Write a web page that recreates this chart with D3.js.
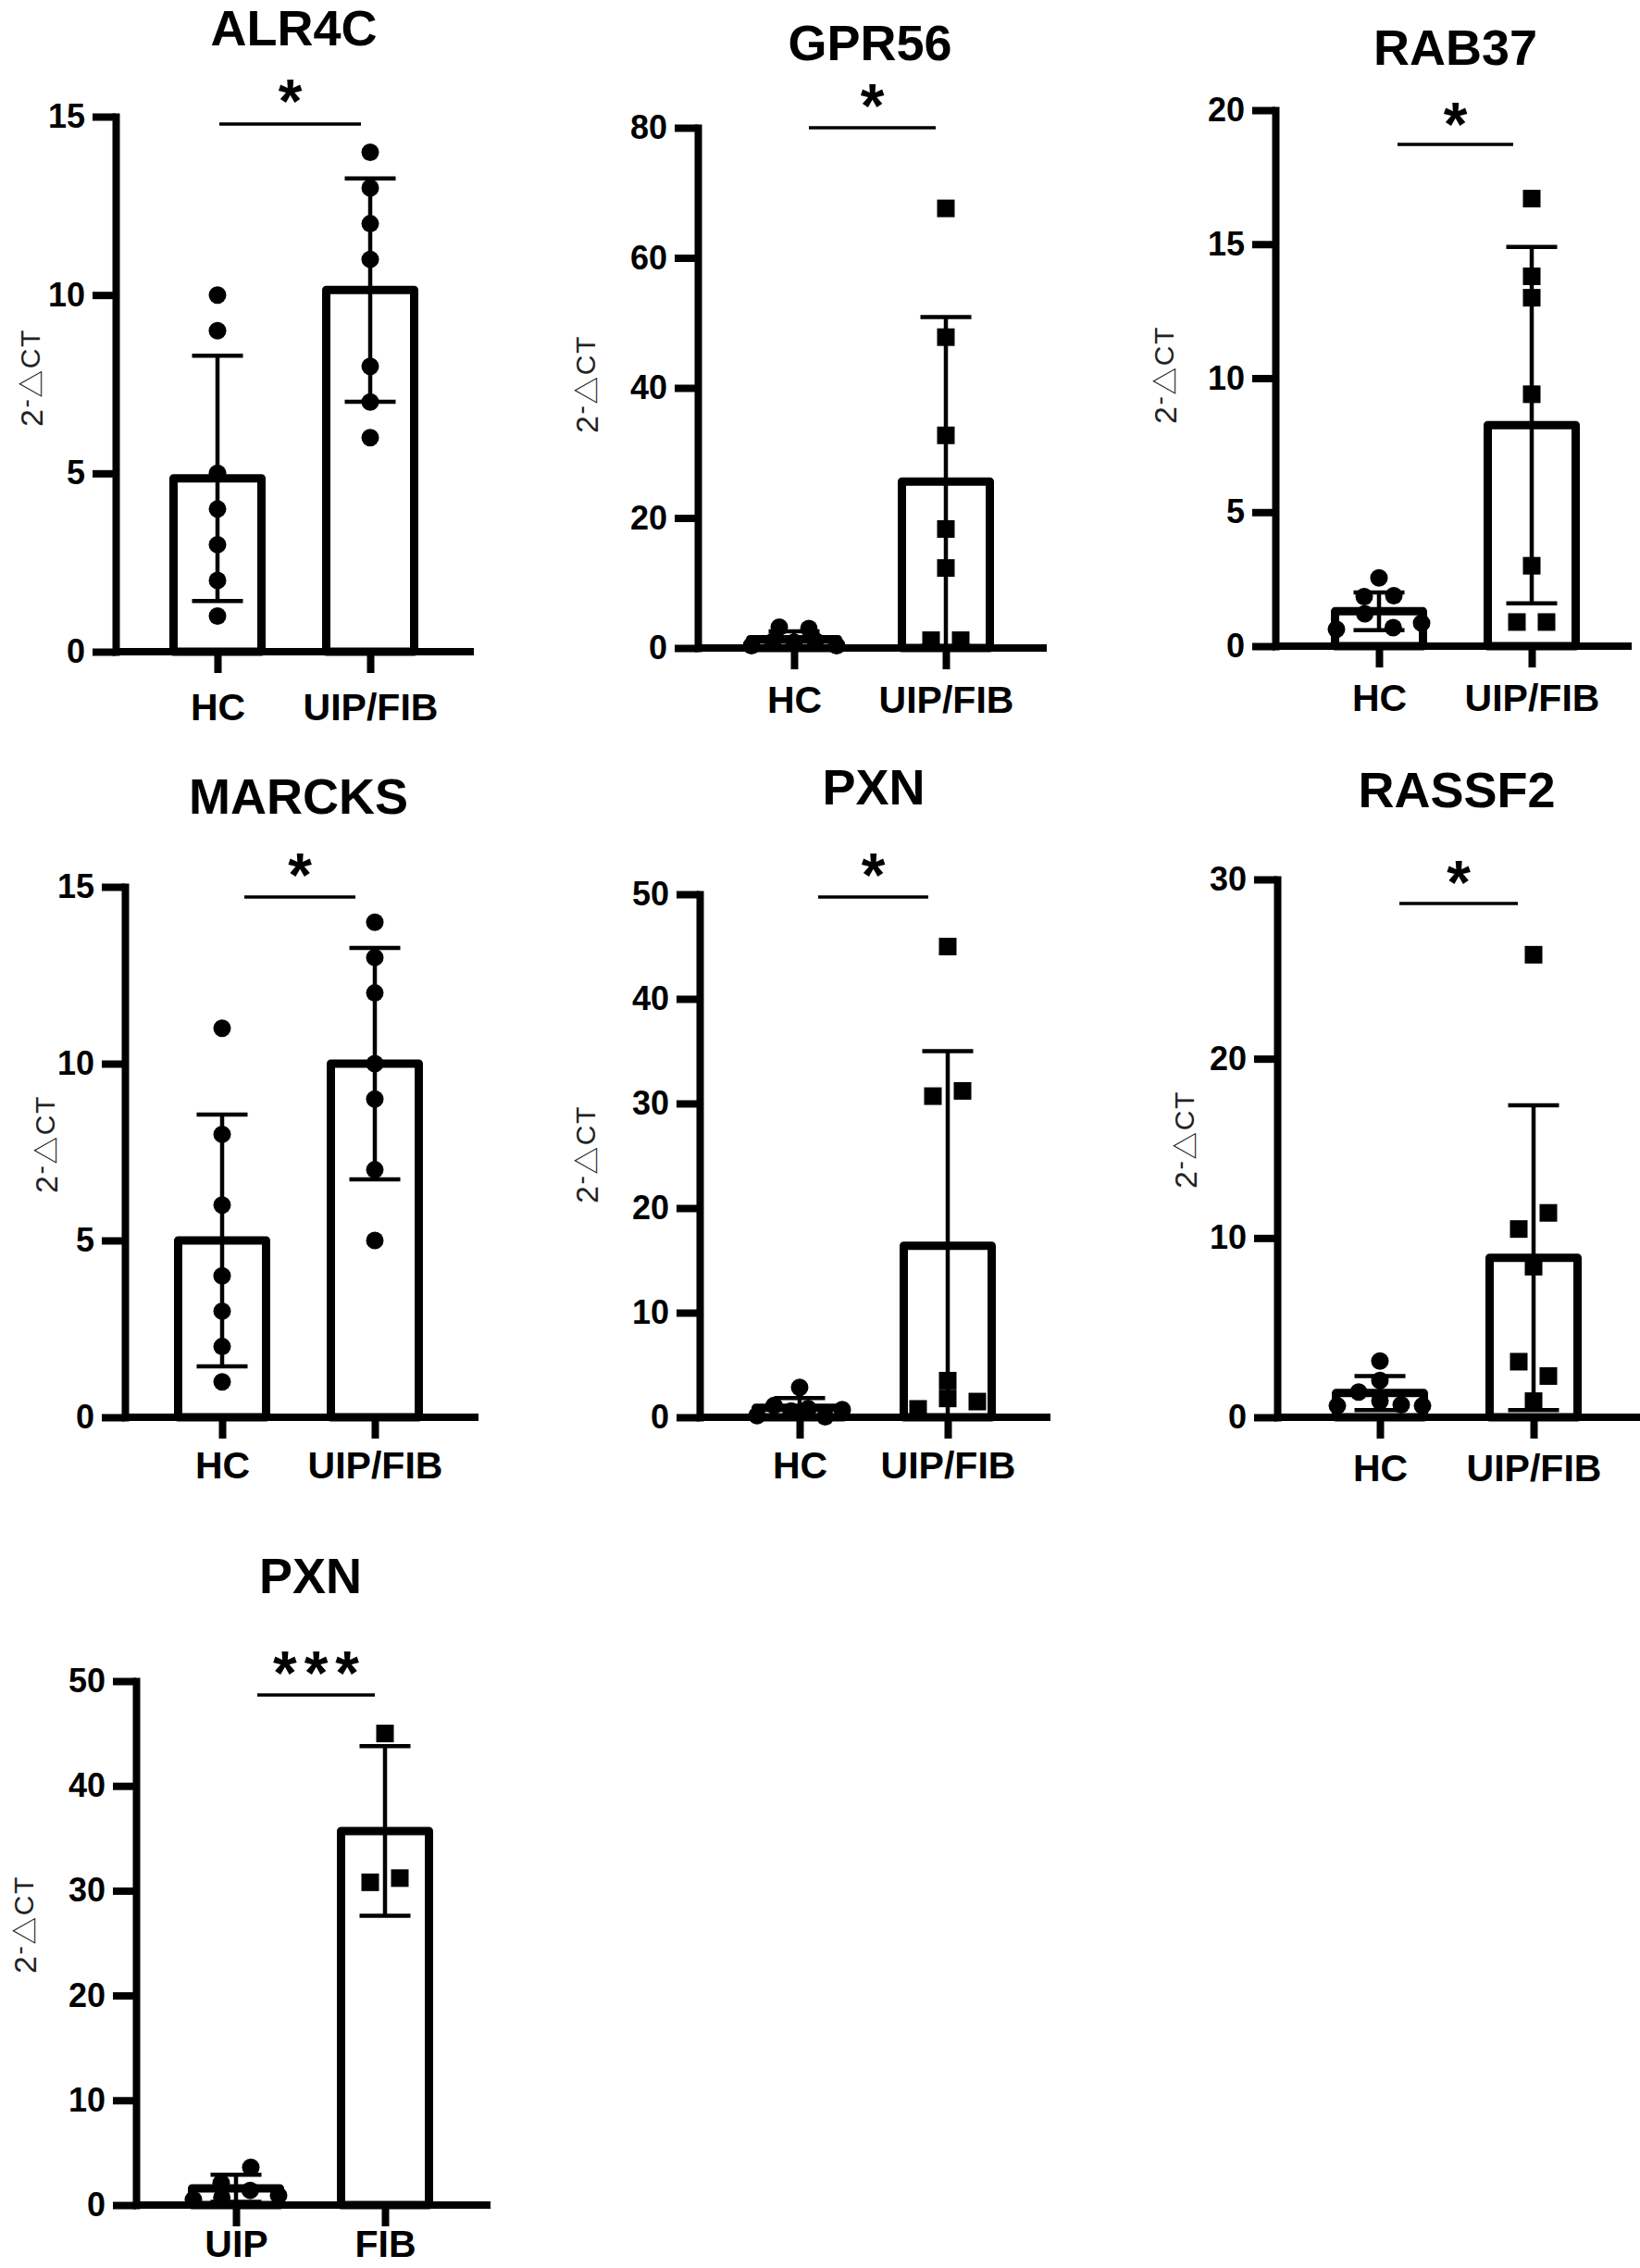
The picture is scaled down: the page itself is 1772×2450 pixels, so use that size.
<!DOCTYPE html>
<html>
<head>
<meta charset="utf-8">
<script src="https://cdn.jsdelivr.net/npm/d3@7"></script>
<style>
  body { margin: 0; background: #fff; }
</style>
</head>
<body>
<script>
// ---- data ----
var panelTitles = ["ALR4C", "GPR56", "RAB37", "MARCKS", "PXN", "RASSF2", "PXN"];
var groupLabels = [
  ["HC", "UIP/FIB"], ["HC", "UIP/FIB"], ["HC", "UIP/FIB"],
  ["HC", "UIP/FIB"], ["HC", "UIP/FIB"], ["HC", "UIP/FIB"],
  ["UIP", "FIB"]
];
var yMax = [15, 80, 20, 15, 50, 30, 50];
var yTicks = [
  [0, 5, 10, 15], [0, 20, 40, 60, 80], [0, 5, 10, 15, 20],
  [0, 5, 10, 15], [0, 10, 20, 30, 40, 50], [0, 10, 20, 30],
  [0, 10, 20, 30, 40, 50]
];
var significance = ["*", "*", "*", "*", "*", "*", "***"];

var meanValues = [
  [4.86, 10.14], [1.35, 25.6], [1.3, 8.25], [5.0, 10.0],
  [0.9, 16.4], [1.35, 8.9], [1.6, 35.7]
];
var sdValues = [
  [3.44, 3.13], [1.2, 25.3], [0.7, 6.65], [3.56, 3.27],
  [0.94, 18.6], [0.95, 8.5], [1.3, 8.1]
];

var firstGroupPoints = [
  [10, 9, 5, 4, 3, 2, 1],
  [0.35, 1.0, 0.9, 1.1, 0.35, 3.2, 3.0],
  [0.63, 1.21, 0.69, 0.86, 1.85, 1.88, 2.55],
  [11, 8, 6, 4, 3, 2, 1],
  [0.15, 1.12, 0.59, 0.83, 0.05, 0.74, 2.86],
  [0.64, 1.41, 0.9, 0.7, 0.64, 2.05, 3.14],
  [0.5, 2.1, 3.6, 0.7, 1.4, 0.9]
];
var secondGroupPoints = [
  [14, 13, 12, 11, 8, 7, 6],
  [67.6, 47.8, 32.7, 18.3, 12.3, 1.2, 1.2],
  [16.7, 13.8, 13.0, 9.4, 3.0, 0.9, 0.9],
  [14, 13, 12, 10, 9, 7, 5],
  [45, 30.7, 31.2, 3.5, 0.8, 1.8, 1.5],
  [25.8, 10.5, 11.4, 8.4, 3.1, 2.3, 0.9],
  [45, 30.8, 31.2]
];
var markerShapes = [
  ["circle", "circle"], ["circle", "square"], ["circle", "square"],
  ["circle", "circle"], ["circle", "square"], ["circle", "square"],
  ["circle", "square"]
];

// ---- page layout (pixels) ----
var layout = [
  { ax: 125, top: 126, base: 704, xEnd: 512, c: [235, 400], titleY: 30, sig: [237, 390, 134], starY: 95, labX: 34, labY: 408, catY: 764 },
  { ax: 754, top: 138, base: 700, xEnd: 1131, c: [858, 1022], titleY: 46, sig: [874, 1011, 138], starY: 100, labX: 634, labY: 415, catY: 756 },
  { ax: 1378, top: 119, base: 698, xEnd: 1763, c: [1490, 1655], titleY: 51, sig: [1510, 1635, 156], starY: 120, labX: 1259, labY: 405, catY: 754 },
  { ax: 135, top: 958, base: 1531, xEnd: 517, c: [240, 405], titleY: 860, sig: [264, 384, 969], starY: 931, labX: 50, labY: 1236, catY: 1583 },
  { ax: 756, top: 966, base: 1531, xEnd: 1135, c: [864, 1024], titleY: 850, sig: [884, 1003, 969], starY: 931, labX: 634, labY: 1247, catY: 1583 },
  { ax: 1380, top: 950, base: 1531, xEnd: 1772, c: [1491, 1657], titleY: 853, sig: [1512, 1640, 976], starY: 939, labX: 1281, labY: 1231, catY: 1586 },
  { ax: 147, top: 1816, base: 2382, xEnd: 530, c: [255, 416], titleY: 1702, sig: [278, 405, 1831], starY: 1793, labX: 27, labY: 2079, catY: 2424 }
];

var font = "'Liberation Sans', Arial, sans-serif";
var axisWidth = 8;
var barWidth = 95;
var barStroke = 9;
var markerSize = 19;
var capWidth = 55;
var tickFont = 36;
var catFont = 41;
var titleFont = 54;
var starFont = 66;

var svg = d3.select("body").append("svg")
  .attr("width", 1772)
  .attr("height", 2450);

svg.append("rect").attr("width", 1772).attr("height", 2450).attr("fill", "#fff");

// spread points that sit on the same height, the way Prism does it
function placePoints(values, y) {
  var pts = values.map(function (v, i) {
    return { v: v, i: i, py: y(v), dx: 0 };
  });
  var sorted = pts.slice().sort(function (a, b) { return b.py - a.py; });
  var groups = [];
  var current = null;
  sorted.forEach(function (p) {
    if (current && current.start - p.py < 18) {
      current.items.push(p);
    } else {
      current = { start: p.py, items: [p] };
      groups.push(current);
    }
  });
  groups.forEach(function (gr) {
    var n = gr.items.length;
    if (n < 2) return;
    var step = Math.min(32, 92 / (n - 1));
    gr.items.sort(function (a, b) { return a.i - b.i; });
    gr.items.forEach(function (p, k) {
      p.dx = (k - (n - 1) / 2) * step;
    });
  });
  return pts;
}

function drawPanel(i) {
  var L = layout[i];
  var labels = groupLabels[i];
  var y = d3.scaleLinear().domain([0, yMax[i]]).range([L.base, L.top]);
  var x = d3.scalePoint().domain(labels).range(L.c);
  var g = svg.append("g");
  var groups = [0, 1];

  // bars
  g.selectAll(".bar")
    .data(groups)
    .enter()
    .append("rect")
    .attr("x", function (k) { return x(labels[k]) - barWidth / 2; })
    .attr("y", function (k) { return y(meanValues[i][k]); })
    .attr("width", barWidth)
    .attr("height", function (k) { return L.base - y(meanValues[i][k]); })
    .attr("fill", "#fff")
    .attr("stroke", "#000")
    .attr("stroke-width", barStroke)
    .attr("stroke-linejoin", "round");

  // y axis
  var yAxis = g.append("g")
    .attr("transform", "translate(" + L.ax + ",0)")
    .call(d3.axisLeft(y).tickValues(yTicks[i]).tickSize(25).tickSizeOuter(0).tickPadding(8));
  yAxis.select(".domain")
    .attr("stroke", "#000")
    .attr("stroke-width", axisWidth)
    .attr("stroke-linecap", "square");
  yAxis.selectAll(".tick line")
    .attr("stroke", "#000")
    .attr("stroke-width", axisWidth);
  yAxis.selectAll(".tick text")
    .attr("fill", "#000")
    .style("font-family", font)
    .style("font-weight", "bold")
    .style("font-size", tickFont + "px");

  // x axis
  var catPad = L.catY - 0.358 * catFont - L.base - 23;
  var xAxis = g.append("g")
    .attr("transform", "translate(0," + L.base + ")")
    .call(d3.axisBottom(x).tickSize(23).tickSizeOuter(0).tickPadding(catPad));
  xAxis.select(".domain").remove();
  xAxis.selectAll(".tick line")
    .attr("stroke", "#000")
    .attr("stroke-width", axisWidth);
  xAxis.selectAll(".tick text")
    .attr("fill", "#000")
    .style("font-family", font)
    .style("font-weight", "bold")
    .style("font-size", catFont + "px");

  g.append("line")
    .attr("x1", L.ax)
    .attr("x2", L.xEnd)
    .attr("y1", L.base)
    .attr("y2", L.base)
    .attr("stroke", "#000")
    .attr("stroke-width", axisWidth);

  // error bars (mean +/- SD)
  groups.forEach(function (k) {
    var cx = x(labels[k]);
    var m = meanValues[i][k];
    var s = sdValues[i][k];
    var lo = Math.max(0, m - s);
    g.append("line")
      .attr("x1", cx).attr("x2", cx)
      .attr("y1", y(lo)).attr("y2", y(m + s))
      .attr("stroke", "#000").attr("stroke-width", 4.5);
    g.append("line")
      .attr("x1", cx - capWidth / 2).attr("x2", cx + capWidth / 2)
      .attr("y1", y(m + s)).attr("y2", y(m + s))
      .attr("stroke", "#000").attr("stroke-width", 4.5);
    if (m - s > 0) {
      g.append("line")
        .attr("x1", cx - capWidth / 2).attr("x2", cx + capWidth / 2)
        .attr("y1", y(lo)).attr("y2", y(lo))
        .attr("stroke", "#000").attr("stroke-width", 4.5);
    }
  });

  // individual points
  var pointSets = [firstGroupPoints[i], secondGroupPoints[i]];
  groups.forEach(function (k) {
    var cx = x(labels[k]);
    var pts = placePoints(pointSets[k], y);
    if (markerShapes[i][k] == "circle") {
      g.selectAll(".pt" + k)
        .data(pts)
        .enter()
        .append("circle")
        .attr("cx", function (d) { return cx + d.dx; })
        .attr("cy", function (d) { return d.py; })
        .attr("r", markerSize / 2)
        .attr("fill", "#000");
    } else {
      g.selectAll(".pt" + k)
        .data(pts)
        .enter()
        .append("rect")
        .attr("x", function (d) { return cx + d.dx - markerSize / 2; })
        .attr("y", function (d) { return d.py - markerSize / 2; })
        .attr("width", markerSize)
        .attr("height", markerSize)
        .attr("fill", "#000");
    }
  });

  // title
  g.append("text")
    .attr("x", (L.c[0] + L.c[1]) / 2)
    .attr("y", L.titleY + 0.358 * titleFont)
    .attr("text-anchor", "middle")
    .attr("font-family", font)
    .attr("font-weight", "bold")
    .attr("font-size", titleFont + "px")
    .text(panelTitles[i]);

  // significance bracket
  g.append("line")
    .attr("x1", L.sig[0]).attr("x2", L.sig[1])
    .attr("y1", L.sig[2]).attr("y2", L.sig[2])
    .attr("stroke", "#000").attr("stroke-width", 3.5);
  var spacing = significance[i].length > 1 ? 8 : 0;
  g.append("text")
    .attr("x", (L.sig[0] + L.sig[1]) / 2 + spacing / 2)
    .attr("y", L.starY + 0.56 * starFont)
    .attr("text-anchor", "middle")
    .attr("font-family", font)
    .attr("font-weight", "bold")
    .attr("font-size", starFont + "px")
    .attr("letter-spacing", spacing)
    .text(significance[i]);

  // y label 2^-ΔCT
  var lab = g.append("text")
    .attr("transform", "translate(" + L.labX + "," + L.labY + ") rotate(-90)")
    .attr("text-anchor", "middle")
    .attr("dominant-baseline", "central")
    .attr("font-family", font)
    .attr("font-size", "34px")
    .attr("fill", "#222")
    .attr("letter-spacing", 1.5);
  lab.append("tspan").text("2");
  lab.append("tspan").attr("font-size", "28px").attr("dy", -7).text("-");
  lab.append("tspan")
    .attr("font-family", "'Noto Sans CJK SC', 'DejaVu Sans', sans-serif")
    .attr("font-size", "30px")
    .attr("dy", 5)
    .text("\u25B3");
  lab.append("tspan").attr("font-size", "30px").text("CT");
}

for (var i = 0; i < panelTitles.length; i++) {
  drawPanel(i);
}
</script>
</body>
</html>
